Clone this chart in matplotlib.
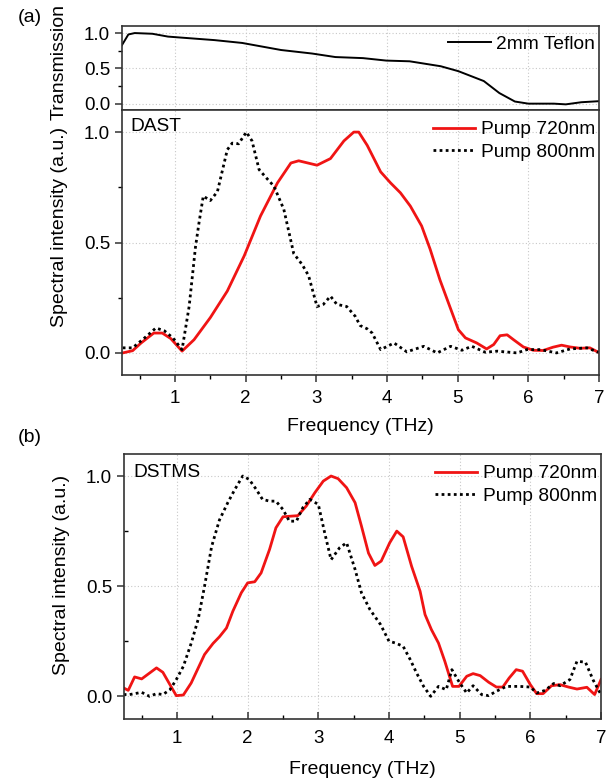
import numpy as np
import matplotlib
matplotlib.use("Agg")
import matplotlib.pyplot as plt
from matplotlib.ticker import MultipleLocator

plt.rcParams['font.family'] = ['Liberation Sans', 'DejaVu Sans']

# ---------------- data ----------------
teflon_freq = [0.25, 0.34, 0.43, 0.68, 0.90, 1.03, 1.56, 1.95, 2.50, 2.94, 3.27, 3.66,
               3.99, 4.32, 4.76, 5.01, 5.37, 5.59, 5.81, 6.00, 6.36, 6.53, 6.75, 7.00]
teflon_trans = [0.83, 0.98, 1.00, 0.99, 0.95, 0.94, 0.90, 0.86, 0.76, 0.71, 0.66, 0.645,
                0.61, 0.60, 0.53, 0.46, 0.32, 0.15, 0.03, 0.0, 0.0, -0.01, 0.02, 0.035]

dast720_freq = [0.26, 0.40, 0.52, 0.70, 0.82, 0.94, 1.10, 1.27, 1.50, 1.74, 1.98, 2.21, 2.45,
                2.64, 2.75, 3.01, 3.20, 3.39, 3.53, 3.60, 3.72, 3.91, 4.05, 4.19, 4.33, 4.49,
                4.61, 4.75, 4.90, 5.01, 5.11, 5.27, 5.41, 5.51, 5.60, 5.70, 5.79, 5.93, 6.07,
                6.21, 6.35, 6.47, 6.59, 6.73, 6.87, 6.99]
dast720_int = [0.0, 0.01, 0.045, 0.09, 0.09, 0.065, 0.008, 0.06, 0.16, 0.28, 0.44, 0.62, 0.77,
               0.86, 0.87, 0.85, 0.88, 0.96, 1.0, 1.0, 0.94, 0.82, 0.77, 0.725, 0.665, 0.575,
               0.47, 0.33, 0.20, 0.105, 0.068, 0.045, 0.018, 0.038, 0.078, 0.082, 0.06, 0.027,
               0.012, 0.011, 0.026, 0.035, 0.027, 0.021, 0.023, 0.003]

dast800_freq = [0.26, 0.40, 0.57, 0.73, 0.85, 0.97, 1.10, 1.20, 1.29, 1.34, 1.40, 1.50, 1.60,
                1.74, 1.81, 1.90, 2.01, 2.09, 2.19, 2.30, 2.40, 2.54, 2.68, 2.80, 2.89, 3.01,
                3.10, 3.20, 3.29, 3.43, 3.55, 3.62, 3.72, 3.79, 3.91, 4.10, 4.28, 4.52, 4.71,
                4.90, 5.06, 5.20, 5.39, 5.56, 5.84, 5.98, 6.17, 6.40, 6.59, 6.83, 6.99]
dast800_int = [0.023, 0.023, 0.068, 0.113, 0.10, 0.068, 0.015, 0.21, 0.48, 0.59, 0.71, 0.69,
               0.73, 0.92, 0.95, 0.947, 1.0, 0.96, 0.83, 0.79, 0.755, 0.65, 0.45, 0.40, 0.35,
               0.21, 0.22, 0.257, 0.22, 0.21, 0.166, 0.124, 0.109, 0.09, 0.015, 0.045, 0.005,
               0.03, 0.0, 0.03, 0.012, 0.03, 0.003, 0.008, 0.0, 0.015, 0.015, 0.0, 0.018,
               0.023, 0.003]

dstms720_freq = [0.245, 0.31, 0.40, 0.50, 0.71, 0.80, 0.90, 0.99, 1.09, 1.20, 1.39, 1.51, 1.60,
                 1.70, 1.79, 1.91, 2.00, 2.10, 2.19, 2.31, 2.40, 2.50, 2.62, 2.71, 2.83, 2.95,
                 3.07, 3.18, 3.28, 3.40, 3.52, 3.61, 3.71, 3.80, 3.89, 4.01, 4.11, 4.20, 4.32,
                 4.44, 4.51, 4.60, 4.70, 4.79, 4.90, 4.99, 5.10, 5.19, 5.29, 5.41, 5.52, 5.61,
                 5.70, 5.80, 5.89, 6.00, 6.09, 6.18, 6.30, 6.42, 6.54, 6.66, 6.80, 6.91, 7.0]
dstms720_int = [0.038, 0.027, 0.088, 0.079, 0.129, 0.109, 0.053, 0.003, 0.006, 0.06, 0.19, 0.24,
                0.27, 0.31, 0.386, 0.47, 0.515, 0.52, 0.56, 0.667, 0.765, 0.815, 0.818, 0.82,
                0.864, 0.924, 0.977, 1.0, 0.988, 0.947, 0.879, 0.773, 0.65, 0.594, 0.614, 0.697,
                0.75, 0.724, 0.59, 0.477, 0.371, 0.303, 0.242, 0.159, 0.045, 0.045, 0.091,
                0.103, 0.094, 0.064, 0.042, 0.042, 0.083, 0.121, 0.114, 0.053, 0.012, 0.012,
                0.048, 0.053, 0.042, 0.033, 0.041, 0.008, 0.076]

dstms800_freq = [0.245, 0.33, 0.50, 0.61, 0.71, 0.80, 0.90, 0.99, 1.09, 1.20, 1.30, 1.39, 1.49,
                 1.60, 1.72, 1.82, 1.93, 2.02, 2.12, 2.21, 2.31, 2.40, 2.50, 2.59, 2.69, 2.78,
                 2.88, 3.00, 3.09, 3.18, 3.30, 3.40, 3.52, 3.61, 3.73, 3.88, 4.00, 4.09, 4.20,
                 4.30, 4.39, 4.49, 4.59, 4.70, 4.81, 4.89, 5.00, 5.10, 5.19, 5.31, 5.41, 5.52,
                 5.66, 5.85, 6.00, 6.09, 6.21, 6.33, 6.42, 6.56, 6.66, 6.78, 6.89, 7.0]
dstms800_int = [0.008, 0.008, 0.018, 0.0, 0.012, 0.008, 0.03, 0.076, 0.136, 0.24, 0.35, 0.50,
                0.68, 0.80, 0.88, 0.94, 1.0, 0.985, 0.94, 0.894, 0.886, 0.886, 0.848, 0.795,
                0.795, 0.856, 0.894, 0.871, 0.742, 0.62, 0.674, 0.697, 0.576, 0.47, 0.394,
                0.326, 0.25, 0.242, 0.227, 0.167, 0.106, 0.045, 0.0, 0.045, 0.03, 0.121, 0.061,
                0.015, 0.048, 0.008, 0.003, 0.023, 0.045, 0.045, 0.042, 0.015, 0.027, 0.058,
                0.048, 0.076, 0.159, 0.155, 0.073, 0.008]

label_720 = "Pump 720nm"
label_800 = "Pump 800nm"

# ---------------- style ----------------
RED = '#f01414'
SPINE = '#333333'
GRID = '#c8c8c8'
TICK_FS = 13.5
LEG_FS = 13.8
LABEL_FS = 14
W, H = 611, 778

fig = plt.figure(figsize=(W / 100, H / 100), dpi=100)


def axes_px(l, t, r, b):
    return fig.add_axes([l / W, 1 - b / H, (r - l) / W, (b - t) / H])


ax0 = axes_px(122, 26, 599, 110)
ax1 = axes_px(122, 110, 599, 375)
ax2 = axes_px(124, 454, 601, 719)

dot_style = dict(color='black', lw=2.0, linestyle=(0, (1, 1.2)), dash_capstyle='butt')
red_style = dict(color=RED, lw=2.0)
leg_kw = dict(loc='upper right', frameon=False, fontsize=LEG_FS, handlelength=2.2,
              handletextpad=0.3, borderaxespad=0.1, labelspacing=0.25)

for ax in (ax0, ax1, ax2):
    for s in ax.spines.values():
        s.set_color(SPINE)
        s.set_linewidth(1.2)
    ax.set_xlim(0.25, 7.0)
    ax.xaxis.set_major_locator(MultipleLocator(1))
    ax.xaxis.set_minor_locator(MultipleLocator(0.5))
    ax.yaxis.set_major_locator(MultipleLocator(0.5))
    ax.yaxis.set_minor_locator(MultipleLocator(0.25))
    ax.yaxis.set_major_formatter(plt.FuncFormatter(lambda v, p: f"{v:.1f}"))
    ax.grid(True, which='major', color=GRID, linestyle=(0, (1, 2)), linewidth=0.8)
    ax.set_axisbelow(True)
    ax.tick_params(labelsize=TICK_FS, colors=SPINE, labelcolor='black')
    ax.tick_params(axis='y', which='major', direction='out', length=5, width=1.1, right=False)
    ax.tick_params(axis='y', which='minor', direction='out', length=3, width=1.0, right=False)

# top: transmission
ax0.plot(teflon_freq, teflon_trans, color='black', lw=1.4, label='2mm Teflon')
ax0.set_ylim(-0.09, 1.1)
ax0.tick_params(axis='x', which='both', length=0, labelbottom=False)
ax0.set_ylabel('Transmission', fontsize=LABEL_FS)
ax0.yaxis.set_label_coords(-0.113, 0.57)
ax0.legend(bbox_to_anchor=(1.012, 1.0), **leg_kw)

# (a) DAST
ax1.plot(dast720_freq, dast720_int, label=label_720, **red_style)
ax1.plot(dast800_freq, dast800_int, label=label_800, **dot_style)
ax1.set_ylim(-0.1, 1.1)
ax1.tick_params(axis='x', which='major', direction='out', length=5, width=1.1, pad=6)
ax1.tick_params(axis='x', which='minor', direction='out', length=3, width=1.0)
ax1.set_xlabel('Frequency (THz)', fontsize=LABEL_FS, labelpad=8)
ax1.set_ylabel('Spectral intensity (a.u.)', fontsize=LABEL_FS)
ax1.yaxis.set_label_coords(-0.113, 0.56)
ax1.text(0.017, 0.936, 'DAST', transform=ax1.transAxes, fontsize=LEG_FS, va='center', ha='left')
ax1.legend(bbox_to_anchor=(1.012, 0.995), **leg_kw)

# (b) DSTMS
ax2.plot(dstms720_freq, dstms720_int, label=label_720, **red_style)
ax2.plot(dstms800_freq, dstms800_int, label=label_800, **dot_style)
ax2.set_ylim(-0.103, 1.1)
ax2.tick_params(axis='x', which='major', direction='in', length=5, width=1.1, pad=8)
ax2.tick_params(axis='x', which='minor', direction='in', length=3, width=1.0)
ax2.tick_params(axis='y', which='minor', direction='in', length=3, width=1.0)
ax2.set_xlabel('Frequency (THz)', fontsize=LABEL_FS, labelpad=10)
ax2.set_ylabel('Spectral intensity (a.u.)', fontsize=LABEL_FS)
ax2.yaxis.set_label_coords(-0.113, 0.545)
ax2.text(0.019, 0.932, 'DSTMS', transform=ax2.transAxes, fontsize=LEG_FS, va='center', ha='left')
ax2.legend(bbox_to_anchor=(1.012, 0.995), **leg_kw)

fig.text(18 / W, 1 - 18 / H, '(a)', fontsize=LABEL_FS, va='center', ha='left')
fig.text(18 / W, 1 - 438 / H, '(b)', fontsize=LABEL_FS, va='center', ha='left')

fig.savefig('out.png', dpi=100)
